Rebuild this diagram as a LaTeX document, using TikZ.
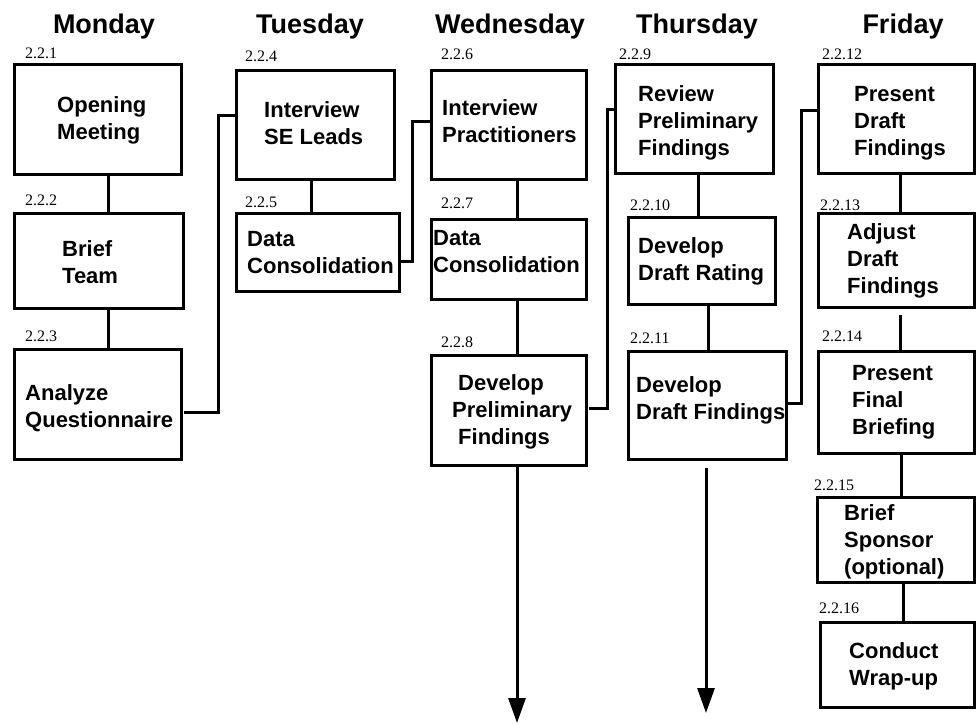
\documentclass[tikz,border=0pt]{standalone}
\usepackage{fontspec}
\setmainfont{Liberation Serif}
\setsansfont{Liberation Sans}
\usetikzlibrary{arrows.meta}

% a task box given by its corner coordinates (x1,y1) and (x2,y2)
\newcommand\taskbox[5]{%
  \node[taskrect, minimum width={#4-#2}, minimum height={#5-#3}]
    (#1) at ({(#2+#4)/2},{(#3+#5)/2}) {};}

\begin{document}
\begin{tikzpicture}[x=1pt,y=-1pt,
  taskrect/.style={draw, line width=3pt, inner sep=0pt, outer sep=0pt},
  % multi-line texts are placed by the baseline of their last line
  tasktext/.style={font=\sffamily\bfseries\fontsize{22}{27}\selectfont,
    align=left, inner sep=0pt, anchor=base west},
  tasknum/.style={font=\rmfamily\fontsize{16}{18}\selectfont,
    inner sep=0pt, anchor=base west},
  dayhead/.style={font=\sffamily\bfseries\fontsize{27}{32}\selectfont,
    inner sep=0pt, anchor=base},
  link/.style={line width=3pt},
  flow/.style={line width=3pt, -{Triangle[width=17pt,length=25pt]}}]
\useasboundingbox (0,0) rectangle (976,724);

% day headings
\node[dayhead] (mon) at (104,33) {Monday};
\node[dayhead] (tue) at (310,33) {Tuesday};
\node[dayhead] (wed) at (510,33) {Wednesday};
\node[dayhead] (thu) at (697,33) {Thursday};
\node[dayhead] (fri) at (903,33) {Friday};

% boxes
\taskbox{b1}{14}{64}{181}{174}
\taskbox{b2}{14}{213}{183}{308}
\taskbox{b3}{14}{349}{181}{459}
\taskbox{b4}{236}{70}{394}{179}
\taskbox{b5}{236}{213}{399}{291}
\taskbox{b6}{431}{70}{586}{179}
\taskbox{b7}{431}{219}{586}{299}
\taskbox{b8}{431}{355}{586}{465}
\taskbox{b9}{615}{64}{773}{173}
\taskbox{b10}{628}{217}{775}{304}
\taskbox{b11}{628}{351}{786}{459}
\taskbox{b12}{818}{64}{974}{173}
\taskbox{b13}{818}{213}{974}{307}
\taskbox{b14}{818}{351}{974}{453}
\taskbox{b15}{817}{497}{974}{582}
\taskbox{b16}{820}{622}{974}{707}

% box texts
\node[tasktext] (t1) at (57,139) {Opening\\Meeting};
\node[tasktext] (t2) at (62,283) {Brief\\Team};
\node[tasktext] (t3) at (25,427) {Analyze\\Questionnaire};
\node[tasktext] (t4) at (264,144) {Interview\\SE Leads};
\node[tasktext] (t5) at (247,273) {Data\\Consolidation};
\node[tasktext] (t6) at (442,142) {Interview\\Practitioners};
\node[tasktext] (t7) at (433,272) {Data\\Consolidation};
\node[tasktext] (t8) at (458,444) {Develop\\\hspace*{-6pt}Preliminary\\Findings};
\node[tasktext] (t9) at (638,155) {Review\\Preliminary\\Findings};
\node[tasktext] (t10) at (638,280) {Develop\\Draft Rating};
\node[tasktext] (t11) at (636,419) {Develop\\Draft Findings};
\node[tasktext] (t12) at (854,155) {Present\\Draft\\Findings};
\node[tasktext] (t13) at (847,293) {Adjust\\Draft\\Findings};
\node[tasktext] (t14) at (852,434) {Present\\Final\\Briefing};
\node[tasktext] (t15) at (844,574) {Brief\\Sponsor\\(optional)};
\node[tasktext] (t16) at (849,685) {Conduct\\Wrap-up};

% task numbers
\node[tasknum] (n1) at (25,58) {2.2.1};
\node[tasknum] (n2) at (25,205) {2.2.2};
\node[tasknum] (n3) at (25,341) {2.2.3};
\node[tasknum] (n4) at (245,61) {2.2.4};
\node[tasknum] (n5) at (245,207) {2.2.5};
\node[tasknum] (n6) at (441,59) {2.2.6};
\node[tasknum] (n7) at (441,208) {2.2.7};
\node[tasknum] (n8) at (441,347) {2.2.8};
\node[tasknum] (n9) at (619,59) {2.2.9};
\node[tasknum] (n10) at (630,210) {2.2.10};
\node[tasknum] (n11) at (630,343) {2.2.11};
\node[tasknum] (n12) at (822,59) {2.2.12};
\node[tasknum] (n13) at (820,210) {2.2.13};
\node[tasknum] (n14) at (822,341) {2.2.14};
\node[tasknum] (n15) at (814,490) {2.2.15};
\node[tasknum] (n16) at (819,613) {2.2.16};

% links within a day
\draw[link] (108,0 |- b1.south) -- (108,0 |- b2.north);
\draw[link] (108,0 |- b2.south) -- (108,0 |- b3.north);
\draw[link] (311,0 |- b4.south) -- (311,0 |- b5.north);
\draw[link] (517,0 |- b6.south) -- (517,0 |- b7.north);
\draw[link] (517,0 |- b7.south) -- (517,0 |- b8.north);
\draw[link] (698,0 |- b9.south) -- (698,0 |- b10.north);
\draw[link] (708,0 |- b10.south) -- (708,0 |- b11.north);
\draw[link] (900,0 |- b12.south) -- (900,0 |- b13.north);
\draw[link, shorten <=8pt] (900,0 |- b13.south) -- (900,0 |- b14.north);
\draw[link] (901,0 |- b14.south) -- (901,0 |- b15.north);
\draw[link] (903,0 |- b15.south) -- (903,0 |- b16.north);

% links from one day to the next
\draw[link, shorten <=3pt] (b3.east |- 0,412) -| (218,115) -- (b4.west |- 0,115);
\draw[link, shorten <=2pt] (b5.east |- 0,261) -| (412,121) -- (b6.west |- 0,121);
\draw[link, shorten <=3pt] (b8.east |- 0,408) -| (607,109) -- (b9.west |- 0,109);
\draw[link] (b11.east |- 0,403) -| (801,110) -- (b12.west |- 0,110);

% open-ended flows
\coordinate (e8) at (517,723);
\coordinate (e11) at (706,713);
\draw[flow] (517,0 |- b8.south) -- (e8);
\draw[flow, shorten <=9pt] (706,0 |- b11.south) -- (e11);
\end{tikzpicture}
\end{document}
